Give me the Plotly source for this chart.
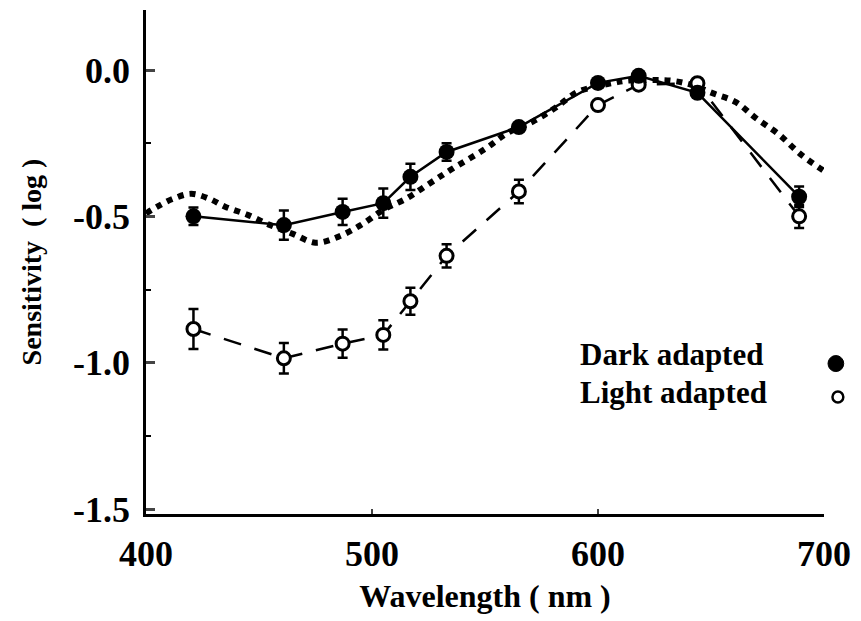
import plotly.graph_objects as go

# Measured spectral sensitivity (log units) at each test wavelength
wavelength = [421, 461, 487, 505, 517, 533, 565, 600, 618, 644, 689]
dark_adapted = [-0.50, -0.53, -0.485, -0.455, -0.365, -0.28, -0.195, -0.044, -0.02, -0.078, -0.433]
dark_err = [0.03, 0.05, 0.045, 0.05, 0.045, 0.03, 0.0, 0.0, 0.0, 0.0, 0.035]
light_adapted = [-0.885, -0.985, -0.935, -0.905, -0.79, -0.635, -0.415, -0.12, -0.05, -0.045, -0.50]
light_err = [0.068, 0.052, 0.048, 0.05, 0.046, 0.04, 0.04, 0.0, 0.0, 0.0, 0.04]

# Reference (template) sensitivity curve
template_wl = [400, 405, 412, 420, 428, 435, 445, 455, 465, 475, 485, 495, 505, 515, 525,
               535, 550, 560, 571, 581, 591, 600, 607, 612, 625, 633, 641, 651, 661, 670,
               680, 690, 701]
template_val = [-0.49, -0.467, -0.44, -0.423, -0.44, -0.467, -0.495, -0.53, -0.56, -0.59,
                -0.57, -0.53, -0.478, -0.44, -0.39, -0.34, -0.27, -0.215, -0.177, -0.13,
                -0.075, -0.055, -0.044, -0.037, -0.034, -0.037, -0.05, -0.08, -0.11, -0.165,
                -0.22, -0.29, -0.35]

y_ticks = [-1.5, -1.0, -0.5, 0.0]
y_ticktext = ["-1.5", "-1.0", "-0.5", "0.0"]
y_minor = [-1.25, -0.75, -0.25]
x_ticks = [400, 500, 600, 700]

SERIF = "Liberation Serif"

fig = go.Figure()

fig.add_trace(go.Scatter(
    x=template_wl, y=template_val, mode="lines",
    line=dict(color="black", width=6, dash="6px,6px", shape="spline", smoothing=1.0),
    hoverinfo="skip", showlegend=False,
))

fig.add_trace(go.Scatter(
    x=wavelength, y=light_adapted, mode="lines+markers",
    line=dict(color="black", width=2.5, dash="18px,14px"),
    marker=dict(symbol="circle", size=13, color="white", line=dict(color="black", width=3)),
    error_y=dict(type="data", array=light_err, visible=True, color="black", thickness=2.5, width=5),
    cliponaxis=False, showlegend=False,
))

fig.add_trace(go.Scatter(
    x=wavelength, y=dark_adapted, mode="lines+markers",
    line=dict(color="black", width=2.5),
    marker=dict(symbol="circle", size=16, color="black"),
    error_y=dict(type="data", array=dark_err, visible=True, color="black", thickness=2.5, width=5),
    cliponaxis=False, showlegend=False,
))

# Key: labels with their marker glyphs
fig.add_annotation(x=0.637, y=0.316, xref="paper", yref="paper", text="<b>Dark adapted</b>",
                   showarrow=False, xanchor="left", yanchor="middle",
                   font=dict(family=SERIF, size=31, color="black"))
fig.add_annotation(x=0.637, y=0.242, xref="paper", yref="paper", text="<b>Light adapted</b>",
                   showarrow=False, xanchor="left", yanchor="middle",
                   font=dict(family=SERIF, size=31, color="black"))
fig.add_shape(type="circle", xref="paper", yref="paper",
              x0=1.0175 - 0.0116, x1=1.0175 + 0.0116, y0=0.2985 - 0.0159, y1=0.2985 + 0.0159,
              fillcolor="black", line=dict(color="black", width=1))
fig.add_shape(type="circle", xref="paper", yref="paper",
              x0=1.0205 - 0.0080, x1=1.0205 + 0.0080, y0=0.232 - 0.0109, y1=0.232 + 0.0109,
              fillcolor="white", line=dict(color="black", width=2.5))

fig.update_layout(
    width=861, height=621,
    margin=dict(l=146, r=28, t=10, b=107),
    paper_bgcolor="white", plot_bgcolor="white",
    font=dict(family=SERIF, color="black"),
    xaxis=dict(
        range=[400, 700], tickvals=x_ticks, ticks="inside", ticklen=5, tickwidth=2,
        showline=True, linewidth=2.5, linecolor="black", showgrid=False, zeroline=False,
        tickfont=dict(family=SERIF, size=36, weight="bold"), ticklabelstandoff=6,
        title=dict(text="<b>Wavelength ( nm )</b>", font=dict(family=SERIF, size=32), standoff=12),
    ),
    yaxis=dict(
        range=[-1.517, 0.205], tickvals=y_ticks, ticktext=y_ticktext, ticks="inside",
        ticklen=9, tickwidth=2.5,
        minor=dict(tickvals=y_minor, ticks="inside", ticklen=5, tickwidth=2, tickcolor="black"),
        showline=True, linewidth=2.5, linecolor="black", showgrid=False, zeroline=False,
        tickfont=dict(family=SERIF, size=36, weight="bold"), ticklabelstandoff=6,
        title=dict(text="<b>Sensitivity  ( log )</b>", font=dict(family=SERIF, size=28), standoff=24),
    ),
)

fig.write_html("out.html")
